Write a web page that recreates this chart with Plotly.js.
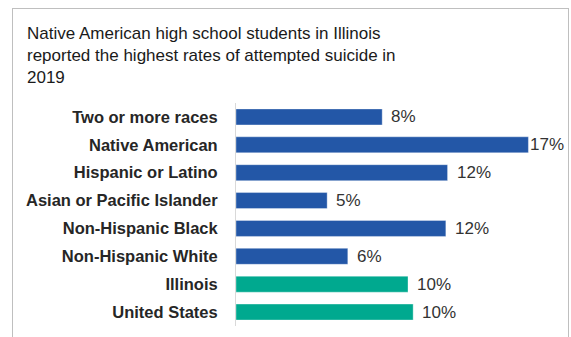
<!DOCTYPE html>
<html>
<head>
<meta charset="utf-8">
<script src="https://cdn.plot.ly/plotly-3.0.1.min.js"></script>
<style>
  html, body { margin: 0; padding: 0; background: #ffffff; }
  #wrap { position: relative; width: 571px; height: 337px; }
  #chart { width: 571px; height: 337px; }
  #frame { position: absolute; left: 12px; top: 8px; width: 555px; height: 340px;
           border-top: 1px solid #bfbfbf; border-left: 1px solid #bfbfbf; border-right: 1px solid #bfbfbf;
           pointer-events: none; }
</style>
</head>
<body>
<div id="wrap">
  <div id="chart"></div>
  <div id="frame"></div>
</div>
<script>
// Data
const categories = [
  "Two or more races",
  "Native American",
  "Hispanic or Latino",
  "Asian or Pacific Islander",
  "Non-Hispanic Black",
  "Non-Hispanic White",
  "Illinois",
  "United States"
];
const values = [8.5, 17.0, 12.3, 5.3, 12.2, 6.5, 10.0, 10.3];
const valueLabels = ["8%", "17%", "12%", "5%", "12%", "6%", "10%", "10%"];
const groups = ["race", "race", "race", "race", "race", "race", "total", "total"];

const groupColors = { race: "#2357A7", total: "#00A98F" };
const maxVal = Math.max(...values);

const trace = {
  type: "bar",
  orientation: "h",
  y: categories,
  x: values,
  marker: {
    color: groups.map(g => groupColors[g]),
    line: { color: "rgba(255,255,255,0.35)", width: 1 }
  },
  hoverinfo: "skip",
  showlegend: false
};

const annotations = categories.map((c, i) => ({
  x: values[i],
  y: c,
  xref: "x",
  yref: "y",
  text: valueLabels[i],
  showarrow: false,
  xanchor: "left",
  yanchor: "middle",
  xshift: values[i] === maxVal ? 0 : 7,
  font: { family: "Arial, 'Liberation Sans', sans-serif", size: 17, color: "#333333" }
}));

const layout = {
  width: 571,
  height: 337,
  margin: { l: 236, r: 5, t: 103, b: 11 },
  paper_bgcolor: "#ffffff",
  plot_bgcolor: "#ffffff",
  bargap: 0.426,
  title: {
    text: "Native American high school students in Illinois<br>reported the highest rates of attempted suicide in<br>2019",
    font: { family: "Arial, 'Liberation Sans', sans-serif", size: 17, color: "#1a1a1a" },
    xref: "container",
    yref: "container",
    x: 27 / 571,
    xanchor: "left",
    y: 1 - 39 / 337,
    yanchor: "top"
  },
  xaxis: {
    range: [0, 330 / 17.2],
    showgrid: false,
    zeroline: false,
    showline: false,
    showticklabels: false,
    ticks: "",
    fixedrange: true
  },
  yaxis: {
    type: "category",
    categoryorder: "array",
    categoryarray: categories,
    autorange: "reversed",
    showgrid: false,
    zeroline: false,
    showline: true,
    linecolor: "#d9d9d9",
    linewidth: 1,
    ticks: "",
    ticklabelstandoff: 14,
    tickfont: { family: "Arial, 'Liberation Sans', sans-serif", size: 16.5, color: "#262626", weight: "bold" },
    fixedrange: true
  },
  annotations: annotations
};

Plotly.newPlot("chart", [trace], layout, { displayModeBar: false, staticPlot: true });
</script>
</body>
</html>
